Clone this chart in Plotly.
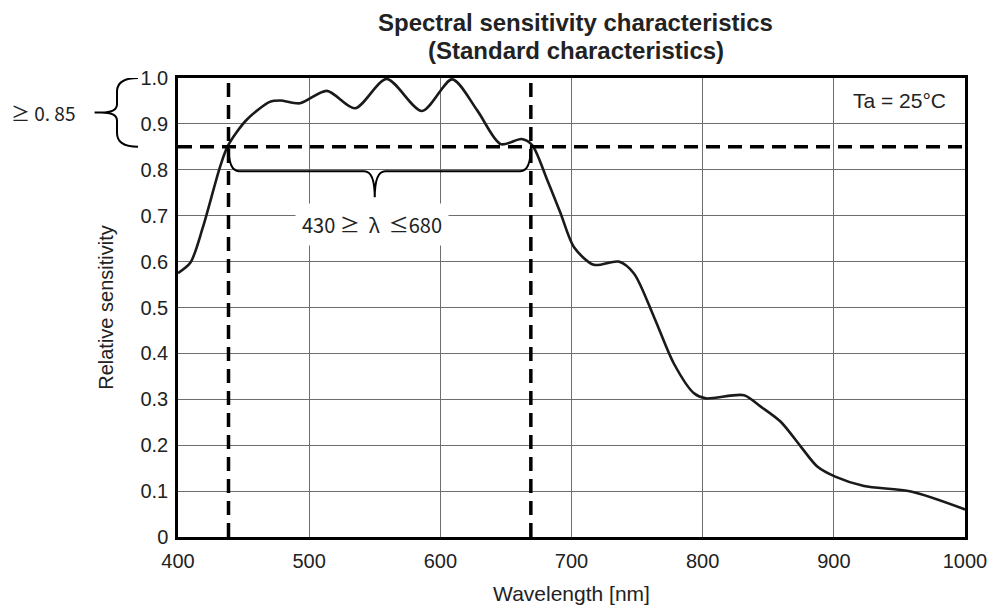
import plotly.graph_objects as go

# curve
wavelength = [400, 409.5, 419, 432, 438, 452, 470, 478, 493, 513.5, 535, 559, 586,
              609, 628, 646, 662, 670, 681.5, 691.6, 701.8, 717, 736, 747.6, 762.8,
              778, 793.4, 802.3, 831.5, 844.3, 859.5, 874.8, 887.6, 901.5, 923,
              958.8, 1000]
sensitivity = [0.575, 0.598, 0.675, 0.806, 0.852, 0.908, 0.948, 0.951, 0.945, 0.972,
               0.934, 0.998, 0.928, 0.997, 0.93, 0.856, 0.867, 0.854, 0.778, 0.706,
               0.632, 0.593, 0.60, 0.574, 0.48, 0.378, 0.313, 0.302, 0.309, 0.284,
               0.251, 0.197, 0.153, 0.131, 0.111, 0.099, 0.06]

x_ticks = [400, 500, 600, 700, 800, 900, 1000]
y_ticks = [0, 0.1, 0.2, 0.3, 0.4, 0.5, 0.6, 0.7, 0.8, 0.9, 1.0]
y_ticktext = ["0", "0.1", "0.2", "0.3", "0.4", "0.5", "0.6", "0.7", "0.8", "0.9", "1.0"]

threshold = 0.85
band_lo, band_hi = 438.5, 669
brace_tip = 550
band_label = "430 ≥  λ  ≤680"
thr_label = "≥ 0. 85"

fig = go.Figure()
fig.add_trace(go.Scatter(
    x=wavelength, y=sensitivity, mode="lines",
    line=dict(color="#1a1a1a", width=2.6, shape="spline", smoothing=0.8),
    showlegend=False, hoverinfo="skip",
))

dash = dict(color="black", width=3.5, dash="14px,8px")
fig.add_shape(type="line", x0=400, x1=1000, y0=threshold, y1=threshold, line=dash)
for xv in (band_lo, band_hi):
    fig.add_shape(type="line", x0=xv, x1=xv, y0=0, y1=1.0, line=dash)

# horizontal curly brace under the threshold line
brace_y, tip_y, r = 0.797, 0.74, 8
path = (f"M {band_lo},{threshold} Q {band_lo},{brace_y} {band_lo + r},{brace_y} "
        f"L {brace_tip - r},{brace_y} Q {brace_tip},{brace_y} {brace_tip},{tip_y} "
        f"Q {brace_tip},{brace_y} {brace_tip + r},{brace_y} "
        f"L {band_hi - r},{brace_y} Q {band_hi},{brace_y} {band_hi},{threshold}")
fig.add_shape(type="path", path=path, line=dict(color="black", width=2))

# vertical brace to the left of the y axis (paper x, data y)
bx, ex, tx = -0.0775, -0.0508, -0.106
ym = (1.0 + threshold) / 2
lpath = (f"M {ex},1.0 Q {bx},1.0 {bx},{1.0 - 0.03} L {bx},{ym + 0.018} "
         f"Q {bx},{ym} {bx - 0.02},{ym} L {tx},{ym} L {bx - 0.02},{ym} "
         f"Q {bx},{ym} {bx},{ym - 0.018} L {bx},{threshold + 0.03} "
         f"Q {bx},{threshold} {ex},{threshold}")
fig.add_shape(type="path", path=lpath, xref="paper", yref="y",
              line=dict(color="black", width=2))

fig.add_annotation(x=brace_tip - 2, y=0.68, text=band_label, showarrow=False,
                   font=dict(family="Noto Sans CJK JP", size=20, color="#222"),
                   bgcolor="white", borderpad=6)
fig.add_annotation(x=-0.1715, xref="paper", y=ym, text=thr_label, showarrow=False,
                   xanchor="center",
                   font=dict(family="Noto Sans CJK JP", size=19, color="#222"))
fig.add_annotation(x=0.978, xref="paper", y=0.952, text="Ta = 25°C", showarrow=False,
                   xanchor="right",
                   font=dict(family="Liberation Sans", size=21, color="#222"))

# two-line bold title, tight line spacing
for txt, yy in (("Spectral sensitivity characteristics", 1.1199),
                ("(Standard characteristics)", 1.0610)):
    fig.add_annotation(x=0.5057, xref="paper", y=yy, yref="paper",
                       text=f"<b>{txt}</b>", showarrow=False,
                       xanchor="center", yanchor="middle",
                       font=dict(family="Liberation Sans", size=24, color="#222"))

fig.update_layout(
    width=980, height=597,
    margin=dict(l=170, r=23, t=70, b=68),
    paper_bgcolor="white", plot_bgcolor="white",
    font=dict(family="Liberation Sans", color="#222"),
)
fig.update_xaxes(
    range=[400, 1000], tickvals=x_ticks, ticks="", ticklen=0, automargin=False,
    tickfont=dict(size=20), ticklabelstandoff=4,
    showgrid=True, gridcolor="#6e6e6e", gridwidth=1,
    showline=True, linecolor="black", linewidth=2.5, mirror=True, zeroline=False,
    title=dict(text="Wavelength [nm]", font=dict(size=21), standoff=29),
)
fig.update_yaxes(
    range=[0, 1.0], tickvals=y_ticks, ticktext=y_ticktext, ticks="", ticklen=0,
    automargin=False, tickfont=dict(size=20), ticklabelstandoff=3,
    showgrid=True, gridcolor="#6e6e6e", gridwidth=1,
    showline=True, linecolor="black", linewidth=2.5, mirror=True, zeroline=False,
    title=dict(text="Relative sensitivity", font=dict(size=20), standoff=22),
)

fig.write_html("out.html")
